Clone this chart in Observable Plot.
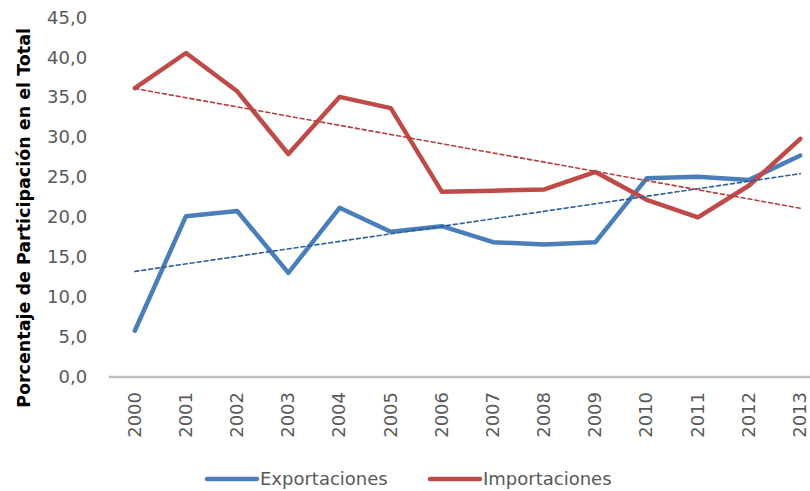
<!DOCTYPE html>
<html>
<head>
<meta charset="utf-8">
<script src="https://cdn.jsdelivr.net/npm/d3@7"></script>
<script src="https://cdn.jsdelivr.net/npm/@observablehq/plot@0.6"></script>
<style>
  html, body { margin: 0; padding: 0; background: #fff; }
  #wrap { width: 810px; height: 491px; overflow: hidden; }
  svg { display: block; }
</style>
</head>
<body>
<div id="wrap"></div>
<script>
const years = [2000, 2001, 2002, 2003, 2004, 2005, 2006, 2007, 2008, 2009, 2010, 2011, 2012, 2013];
const exportaciones = [5.8, 20.15, 20.8, 13.05, 21.2, 18.2, 18.9, 16.9, 16.6, 16.9, 24.9, 25.1, 24.7, 27.75];
const importaciones = [36.2, 40.6, 35.8, 27.95, 35.1, 33.7, 23.2, 23.35, 23.5, 25.7, 22.2, 20.0, 24.0, 29.85];
const seriesNames = ["Exportaciones", "Importaciones"];
const seriesColors = ["#4a7ebb", "#be4b48"];
const trendColors = ["#2f5e99", "#b0413e"];
const yTicks = [0, 5, 10, 15, 20, 25, 30, 35, 40, 45];
const yTitle = "Porcentaje de Participación en el Total";

const data = years.flatMap((yr, i) => [
  {year: yr, value: exportaciones[i], serie: seriesNames[0]},
  {year: yr, value: importaciones[i], serie: seriesNames[1]}
]);

const fmt = d => d.toFixed(1).replace(".", ",");
const font = "DejaVu Sans";

const chart = Plot.plot({
  width: 810,
  height: 450,
  marginLeft: 108.7,
  marginRight: 0,
  marginTop: 17.4,
  marginBottom: 73.5,
  style: {fontFamily: font, fontSize: "18px", color: "#595959", background: "#fff", overflow: "visible"},
  x: {domain: [1999.5, 2013.2], axis: null},
  y: {domain: [0, 45], axis: null},
  color: {domain: seriesNames, range: seriesColors},
  marks: [
    Plot.ruleY([0], {stroke: "#bfbfbf", strokeWidth: 2.5}),
    Plot.axisY({ticks: yTicks, tickSize: 0, tickPadding: 22, tickFormat: fmt, fill: "#595959", fontSize: 18, label: null}),
    Plot.axisX({ticks: years, tickSize: 0, tickPadding: 15, tickRotate: -90, tickFormat: d => String(d), fill: "#595959", fontSize: 18, label: null}),
    Plot.lineY(data, {x: "year", y: "value", stroke: "serie", strokeWidth: 4.5, strokeLinejoin: "round", strokeLinecap: "round"}),
    Plot.linearRegressionY(data.filter(d => d.serie === seriesNames[0]), {x: "year", y: "value", stroke: trendColors[0], strokeWidth: 1.6, strokeDasharray: "4,3", ci: 0}),
    Plot.linearRegressionY(data.filter(d => d.serie === seriesNames[1]), {x: "year", y: "value", stroke: trendColors[1], strokeWidth: 1.6, strokeDasharray: "4,3", ci: 0}),
    Plot.text([yTitle], {frameAnchor: "left", textAnchor: "middle", lineAnchor: "middle", dx: -85.2, dy: 20.5, rotate: -90, fontWeight: "bold", fontSize: 17.5, fill: "#000", fontFamily: font})
  ]
});

const wrap = document.getElementById("wrap");
wrap.appendChild(chart);

// Legend below the chart
const legendItems = [
  {name: seriesNames[0], color: seriesColors[0], x0: 207},
  {name: seriesNames[1], color: seriesColors[1], x0: 430}
];
const leg = d3.create("svg").attr("width", 810).attr("height", 41);
const g = leg.selectAll("g").data(legendItems).join("g")
  .attr("transform", d => `translate(${d.x0},0)`);
g.append("line").attr("x1", 0).attr("x2", 50).attr("y1", 29).attr("y2", 29)
  .attr("stroke", d => d.color).attr("stroke-width", 4.5).attr("stroke-linecap", "round");
g.append("text").attr("x", 53).attr("y", 35).text(d => d.name)
  .attr("font-family", font).attr("font-size", 18).attr("fill", "#595959");
wrap.appendChild(leg.node());
</script>
</body>
</html>
